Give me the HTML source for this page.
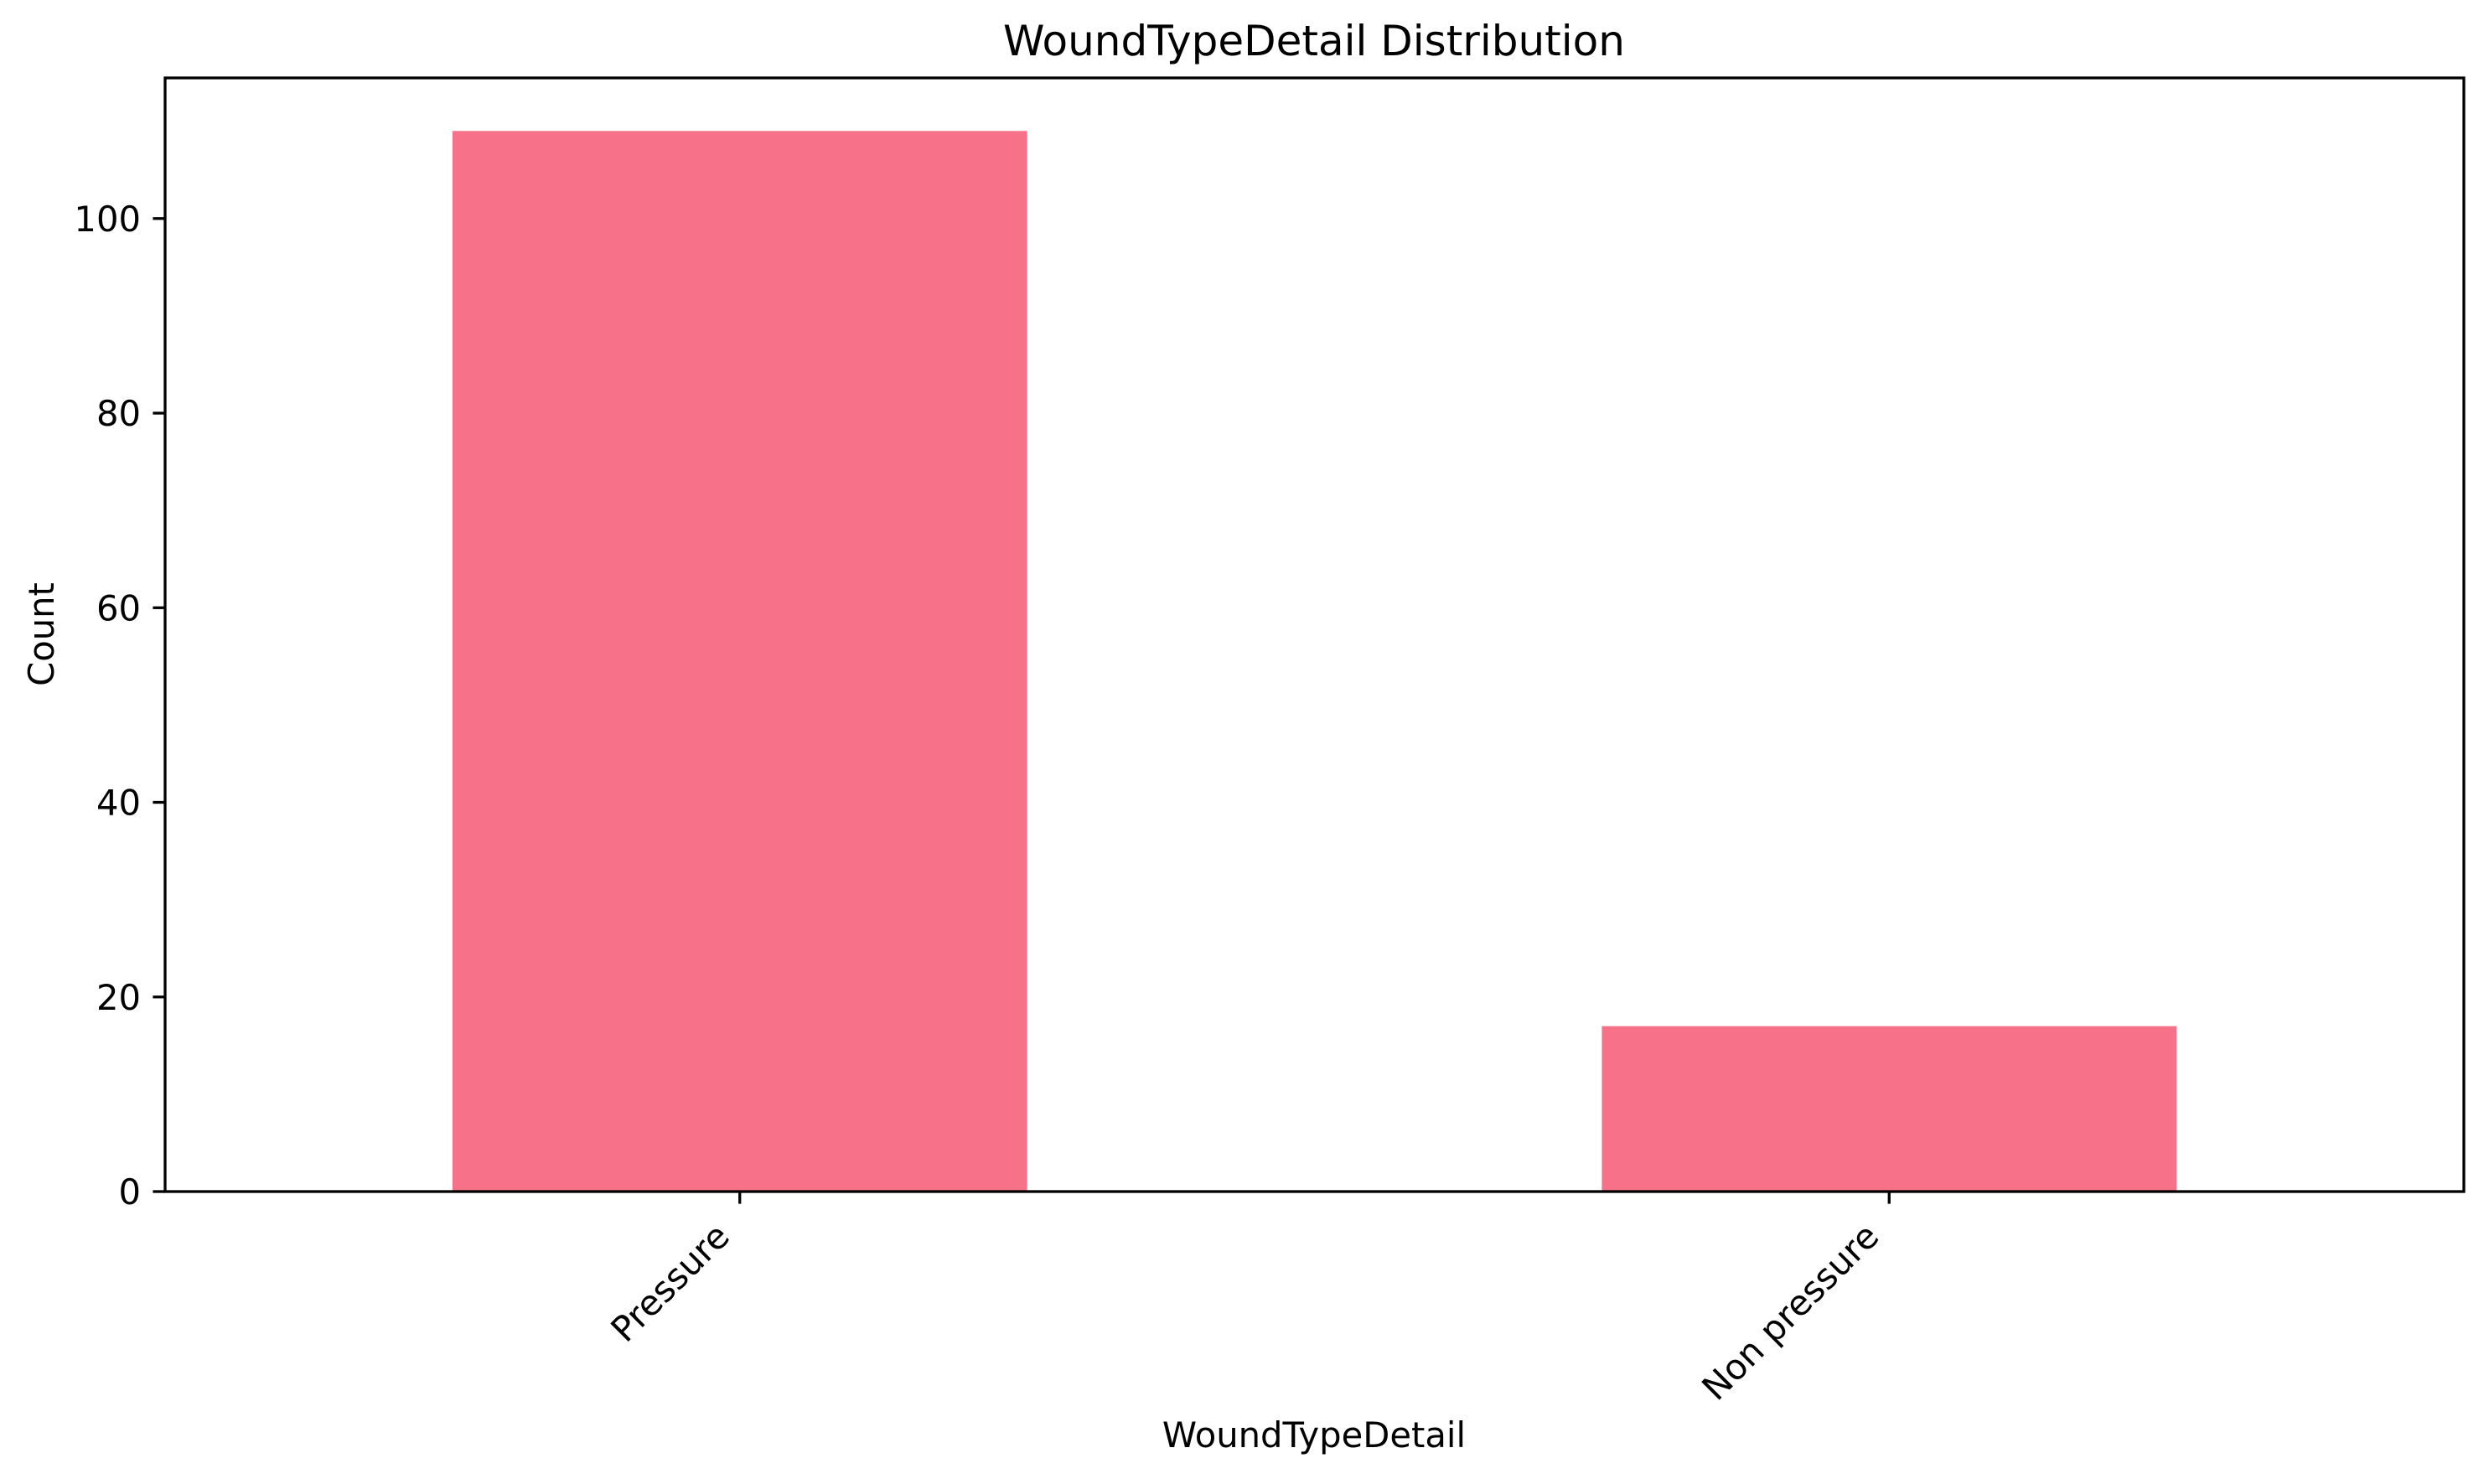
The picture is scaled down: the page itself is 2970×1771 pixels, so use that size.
<!DOCTYPE html>
<html><head><meta charset="utf-8"><style>
html,body{margin:0;padding:0;background:#fff;}
svg text{font-family:"DejaVu Sans","Liberation Sans",sans-serif;fill:#000;}
</style></head><body>
<svg id="chart" width="2970" height="1766" viewBox="0 0 2970 1766" xmlns="http://www.w3.org/2000/svg">
<rect width="2970" height="1766" fill="#fff"/>
<text x="1568" y="66" font-size="50" text-anchor="middle">WoundTypeDetail Distribution</text>
<text x="1568" y="1727" font-size="41.7" text-anchor="middle">WoundTypeDetail</text>
<text x="0" y="0" font-size="41.7" text-anchor="middle" transform="translate(64,757) rotate(-90)">Count</text>
<g id="bars"></g>
<g id="yticks"></g>
<g id="xticks"></g>
<rect x="197" y="93" width="2743" height="1329" fill="none" stroke="#000" stroke-width="3.3"/>
</svg>
<script>
const categories = ["Pressure", "Non pressure"];
const counts = [109, 17];
const yTicks = [0, 20, 40, 60, 80, 100];

const L = 197, R = 2940, T = 93, B = 1422;
const yMin = 0, yMax = 114.45;
const xMin = -0.5, xMax = categories.length - 0.5;
const barW = 0.5;
const NS = "http://www.w3.org/2000/svg";
function xs(v){ return L + (v - xMin) / (xMax - xMin) * (R - L); }
function ys(v){ return B - (v - yMin) / (yMax - yMin) * (B - T); }
function mk(tag, attrs){ const e = document.createElementNS(NS, tag); for (const k in attrs) e.setAttribute(k, attrs[k]); return e; }

const bars = document.getElementById('bars');
counts.forEach((c, i) => {
  const r = mk('rect', {x: xs(i - barW/2), y: ys(c), width: xs(i + barW/2) - xs(i - barW/2), height: ys(0) - ys(c), fill: '#f77189'});
  
  
  bars.appendChild(r);
});

const yg = document.getElementById('yticks');
yTicks.forEach(t => {
  const y = ys(t);
  const ln = mk('line', {x1: L - 14.6, x2: L, y1: y, y2: y, stroke: '#000', 'stroke-width': 3.3});
  
  
  yg.appendChild(ln);
  const tx = mk('text', {x: L - 29, y: y + 15, 'font-size': 41.7, 'text-anchor': 'end'});
  tx.textContent = t;
  
  
  yg.appendChild(tx);
});

const xg = document.getElementById('xticks');
categories.forEach((c, i) => {
  const x = xs(i);
  const ln = mk('line', {x1: x, x2: x, y1: B, y2: B + 14.6, stroke: '#000', 'stroke-width': 3.3});
  
  
  xg.appendChild(ln);
  const tx = mk('text', {x: 0, y: 0, 'font-size': 41.7, 'text-anchor': 'end', transform: 'translate(' + (x - 10) + ',' + (B + 56) + ') rotate(-45)'});
  tx.textContent = c;
  
  
  xg.appendChild(tx);
});
</script>
</body></html>
